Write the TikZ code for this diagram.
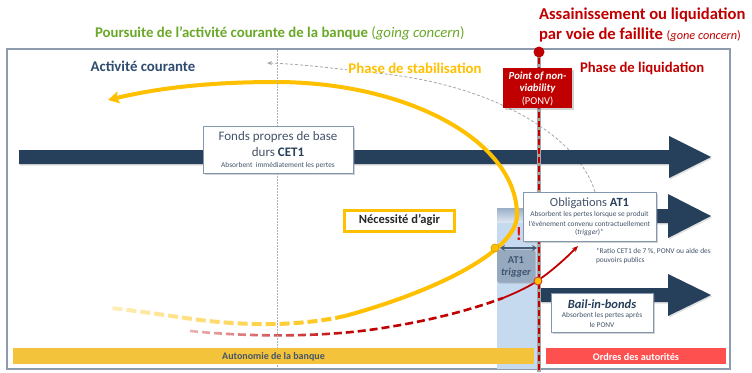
\documentclass[tikz,border=0pt]{standalone}
\usepackage{fontspec}
\setmainfont{Carlito}
\usetikzlibrary{arrows.meta,shadows,fadings}
\definecolor{navy}{HTML}{263F5B}
\definecolor{slate}{HTML}{44546A}
\definecolor{frameblue}{HTML}{8E9BAE}
\definecolor{boxline}{HTML}{8497B0}
\definecolor{gold}{HTML}{FFC000}
\definecolor{golddark}{HTML}{D9A000}
\definecolor{darkred}{HTML}{C00000}
\definecolor{brightred}{HTML}{E01010}
\definecolor{leaf}{HTML}{6AA828}
\definecolor{bandblue}{HTML}{C6DAEF}
\definecolor{baryellow}{HTML}{F3C33B}
\definecolor{barred}{HTML}{FF5050}
\definecolor{trigbox}{HTML}{97A9BF}
\definecolor{trigtext}{HTML}{3F5570}
\definecolor{dashgray}{HTML}{A6A6A6}
\definecolor{titlenavy}{HTML}{2F4B6E}
\definecolor{tabtop}{HTML}{9AAFC8}
\definecolor{tabbot}{HTML}{DDE6F1}
\tikzfading[name=fadeleft, left color=transparent!0, right color=transparent!100]
\newcommand{\myfs}[1]{\fontsize{#1}{#1}\selectfont}
\begin{document}
\begin{tikzpicture}[x=1pt,y=-1pt,
  txt/.style={inner sep=0pt, outer sep=0pt},
  infobox/.style={draw=boxline, line width=0.8pt, fill=white, inner sep=0pt,
    drop shadow={shadow xshift=1.5pt, shadow yshift=-1.5pt, opacity=0.35}},
  bigarrow/.style={fill=navy, drop shadow={shadow xshift=1pt, shadow yshift=-1.5pt, opacity=0.25}},
  smalltxt/.style={txt, text=slate, font=\myfs{7.4}}]
\useasboundingbox (0,0) rectangle (752,372);

% frame
\draw[frameblue, line width=1.2pt, fill=white] (7,49) rectangle (730,369);

% light blue band and tab
\fill[bandblue] (497,208) rectangle (538,369);
\shade[top color=tabtop, bottom color=tabbot] (497,208) rectangle (523,222);

% gray dashed curve
\draw[dashgray, line width=0.8pt, dash pattern=on 3pt off 2pt, -{Stealth[length=5pt,width=4pt]}]
  (595,192) .. controls (580,140) and (500,85) .. (376,73) .. controls (330,68) and (300,64) .. (267,63);

% navy arrows
\fill[bigarrow] (19,150) -- (669,150) -- (669,136) -- (711,157) -- (669,178) -- (669,164) -- (19,164) -- cycle;
\fill[bigarrow] (523,209) -- (668,209) -- (668,194) -- (711,216) -- (668,238) -- (668,223) -- (523,223) -- cycle;
\fill[bigarrow] (541,288) -- (668,288) -- (668,274) -- (711,295) -- (668,316) -- (668,302) -- (541,302) -- cycle;

% yellow arc
\draw[gold, line width=4pt, -{Stealth[length=11pt,width=12pt,inset=2pt]}]
  (345,316) .. controls (440,290) and (517,250) .. (517,215)
  .. controls (517,141.6) and (408.6,82) .. (275,82)
  .. controls (200,82) and (150,90) .. (108,100);
\draw[gold, line width=4pt, dash pattern=on 10pt off 4pt]
  (345,316) .. controls (300,326) and (250,326) .. (200,320) .. controls (170,316) and (140,311) .. (110,308);

% red curve
\draw[darkred, line width=2.6pt, dash pattern=on 8pt off 4pt]
  (190,331) .. controls (260,338) and (330,336) .. (376,329) .. controls (430,321) and (470,310) .. (503,298);
\draw[darkred, line width=1.8pt, -{Stealth[length=6pt,width=5pt]}]
  (503,298) .. controls (520,291) and (530,286) .. (537,281) .. controls (552,271) and (566,258) .. (578,246);

% fading overlays
\fill[white, fill opacity=0.94, path fading=fadeleft] (40,298) rectangle (360,327);
\fill[white, fill opacity=0.94, path fading=fadeleft] (135,327) rectangle (355,343);

% vertical dotted line
\draw[gray!60, line width=0.6pt, dash pattern=on 1.5pt off 1.5pt] (277,50) -- (277,368);

% bottom bars
\node[fill=baryellow, minimum width=521pt, minimum height=16pt, inner sep=0pt] (autobar) at (273.5,356) {};
\node[txt, font=\myfs{10}\bfseries, text=slate] (autotxt) at (273.5,356.5) {Autonomie de la banque};
\node[fill=barred, minimum width=180pt, minimum height=16pt, inner sep=0pt] (ordbar) at (636,356) {};
\node[txt, font=\myfs{10.2}\bfseries, text=white] (ordtxt) at (636,356.5) {Ordres des autorités};

% PONV line
\draw[dashgray, line width=4pt] (539,52) -- (539,372);
\draw[darkred, line width=2pt, dash pattern=on 6pt off 3pt] (539,58) -- (539,372);
\fill[darkred] (539,52) circle (5.5pt);

% boxes
\node[infobox, minimum width=150pt, minimum height=47pt] (cetbox) at (278,149.5) {};
\node[txt, font=\myfs{13}, text=slate] (ceta) at (278,137) {Fonds propres de base};
\node[txt, font=\myfs{13}, text=slate] (cetb) at (278,152.5) {durs \textbf{\color{navy}CET1}};
\node[smalltxt] (cetc) at (278,165.5) {Absorbent\ \ immédiatement les pertes};

\node[infobox, minimum width=133pt, minimum height=49pt] (atbox) at (589.5,216.5) {};
\node[txt, font=\myfs{12.5}, text=slate] (ata) at (589.5,203) {Obligations \textbf{\color{navy}AT1}};
\node[smalltxt] (atb) at (589.5,214.5) {Absorbent les pertes lorsque se produit};
\node[smalltxt] (atc) at (589.5,223.5) {l’événement convenu contractuellement};
\node[smalltxt] (atd) at (589.5,232.5) {(\textit{trigger})*};

\node[infobox, minimum width=102pt, minimum height=39pt] (bibox) at (602,312.5) {};
\node[txt, font=\myfs{12.5}\bfseries\itshape, text=navy] (bia) at (602,304) {Bail-in-bonds};
\node[smalltxt] (bib) at (602,316) {Absorbent les pertes après};
\node[smalltxt] (bic) at (602,324.5) {le PONV};

\node[smalltxt, anchor=west] (notea) at (596,251.5) {*Ratio CET1 de 7 \%, PONV ou aide des};
\node[smalltxt, anchor=west] (noteb) at (596,260.5) {pouvoirs publics};

\node[draw=gold, line width=3pt, fill=white, minimum width=110pt, minimum height=21pt, inner sep=0pt,
  drop shadow={shadow xshift=1.5pt, shadow yshift=-1.5pt, opacity=0.3}] (agirbox) at (399.5,220.5) {};
\node[txt, font=\myfs{12.5}\bfseries, text=black!85] (agirtxt) at (399.5,220.5) {Nécessité d’agir};

\node[fill=darkred, minimum width=69pt, minimum height=40pt, inner sep=0pt,
  drop shadow={shadow xshift=1.5pt, shadow yshift=-1.5pt, opacity=0.35}] (ponvbox) at (537.5,88) {};
\node[txt, font=\myfs{10.8}\bfseries\itshape, text=white] (ponva) at (537.5,76.5) {Point of non-};
\node[txt, font=\myfs{10.8}\bfseries\itshape, text=white] (ponvb) at (537.5,88.5) {viability};
\node[txt, font=\myfs{10.5}, text=white] (ponvc) at (537.5,101) {(PONV)};

% AT1 trigger
\node[fill=trigbox, rounded corners=2pt, minimum width=38pt, minimum height=33pt, inner sep=0pt,
  drop shadow={shadow xshift=1pt, shadow yshift=-1pt, opacity=0.3}] (trigbox) at (516,266) {};
\node[txt, font=\myfs{10.5}\bfseries, text=trigtext] (triga) at (516,260) {AT1};
\node[txt, font=\myfs{10.5}\bfseries\itshape, text=trigtext] (trigb) at (516,272.5) {trigger};
\coordinate (dl) at (500,248);
\coordinate (dr) at (537,248);
\draw[navy!85, line width=1.6pt, {Stealth[length=5pt,width=6pt]}-{Stealth[length=5pt,width=6pt]}] (dl) -- (dr);
\node[txt, font=\myfs{19}\bfseries, text=brightred] (bang) at (519,234) {!};

% dots
\filldraw[fill=gold, draw=golddark, line width=0.8pt] (495,248) circle (4pt);
\filldraw[fill=gold, draw=darkred!80, line width=0.8pt] (538,281) circle (4pt);

% headings
\node[txt, anchor=west, font=\myfs{14.8}\bfseries, text=leaf] (going) at (95,33)
  {Poursuite de l’activité courante de la banque {\mdseries(\textit{going concern})}};
\node[txt, anchor=west, font=\myfs{16.6}\bfseries, text=darkred] (gonea) at (539,15) {Assainissement ou liquidation};
\node[txt, anchor=west, font=\myfs{16.6}\bfseries, text=darkred] (goneb) at (539,35)
  {par voie de faillite {\mdseries\myfs{12.3}(\textit{gone concern})}};
\node[txt, font=\myfs{14.8}\bfseries, text=titlenavy] (actcour) at (143,66) {Activité courante};
\node[txt, font=\myfs{14.8}\bfseries, text=gold, fill=white, inner xsep=1pt] (stab) at (415,68) {Phase de stabilisation};
\node[txt, anchor=west, font=\myfs{14.7}\bfseries, text=darkred] (liqu) at (580,68) {Phase de liquidation};
\end{tikzpicture}
\end{document}
